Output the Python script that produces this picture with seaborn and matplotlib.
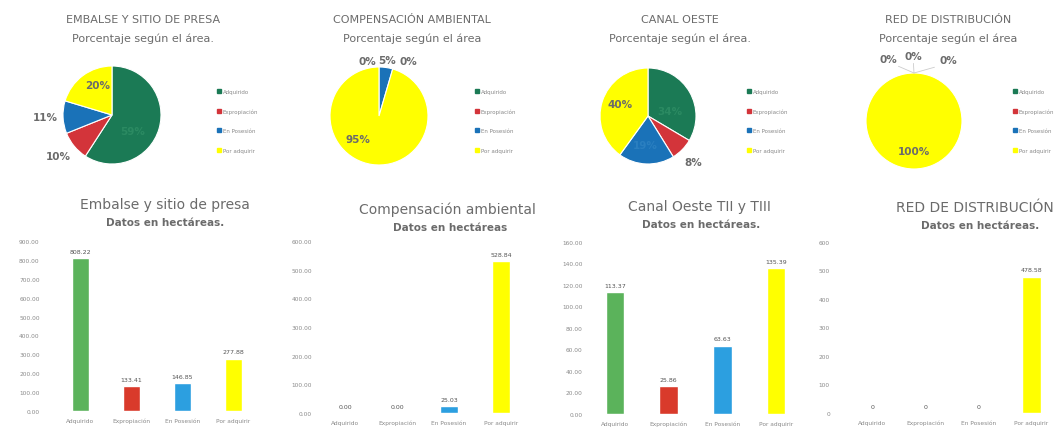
import numpy as np
import seaborn as sns
import matplotlib.pyplot as plt
from matplotlib.lines import Line2D

# Data
categorias = ["Adquirido", "Expropiación", "En Posesión", "Por adquirir"]
pie_titulos = ["EMBALSE Y SITIO DE PRESA", "COMPENSACIÓN AMBIENTAL", "CANAL OESTE", "RED DE DISTRIBUCIÓN"]
pie_subtitulos = ["Porcentaje según el área.", "Porcentaje según el área", "Porcentaje según el área.",
                  "Porcentaje según el área"]
bar_titulos = ["Embalse y sitio de presa", "Compensación ambiental", "Canal Oeste TII y TIII", "RED DE DISTRIBUCIÓN"]
bar_subtitulos = ["Datos en hectáreas.", "Datos en hectáreas", "Datos en hectáreas.", "Datos en hectáreas."]

embalse = [808.22, 133.41, 146.85, 277.88]
compensacion = [0.00, 0.00, 25.03, 528.84]
canal_oeste = [113.37, 25.86, 63.63, 135.39]
red_distribucion = [0, 0, 0, 478.58]
series = [embalse, compensacion, canal_oeste, red_distribucion]

y_max = [900, 600, 160, 600]
y_step = [100, 100, 20, 100]
y_fmt = ["{:.2f}", "{:.2f}", "{:.2f}", "{:.0f}"]
val_fmt = ["%.2f", "%.2f", "%.2f", "%g"]

pie_colores = ["#1b7a55", "#d3343a", "#1a72b8", "#ffff00"]
bar_colores = ["#5bb35b", "#d93a2b", "#2c9fe0", "#ffff00"]
gris = "#6b6b6b"

W, H = 1062, 431


def box(x0, y0, w, h):
    return [x0 / W, 1 - (y0 + h) / H, w / W, h / H]


sns.set_style("white")
plt.rcParams["font.family"] = ["DejaVu Sans"]

fig = plt.figure(figsize=(W / 100, H / 100), dpi=100)

# ---- top row: pies ----
pie_centros = [(112, 116), (379, 117), (648, 117), (914, 122)]
pie_r = [49, 49, 48, 48]
pie_tit_x = [143, 412, 680, 948]
leyenda_x = [212, 470, 742, 1008]
# label offsets (in radius units) per wedge
pos_etq = [
    [(0.43, -0.33), (-1.1, -0.84), (-1.37, -0.04), (-0.29, 0.61)],
    [(-0.24, 1.12), (0.6, 1.12), (0.16, 1.14), (-0.43, -0.47)],
    [(0.45, 0.1), (0.94, -0.96), (-0.05, -0.6), (-0.58, 0.25)],
    [(-0.54, 1.29), (0.71, 1.27), (-0.02, 1.35), (0.0, -0.62)],
]
color_etq = [
    ["#2b8a62", gris, gris, gris],
    [gris, gris, gris, gris],
    ["#2b8a62", gris, "#2a7fc0", gris],
    [gris, gris, gris, gris],
]

for i, vals in enumerate(series):
    cx, cy = pie_centros[i]
    r = pie_r[i]
    ax = fig.add_axes(box(cx - 1.6 * r, cy - 1.6 * r, 3.2 * r, 3.2 * r))
    ax.pie(vals, colors=pie_colores, startangle=90, counterclock=False, radius=1,
           wedgeprops=dict(edgecolor="white", linewidth=0.8))
    ax.set_xlim(-1.6, 1.6)
    ax.set_ylim(-1.6, 1.6)
    ax.set_aspect("equal")
    ax.axis("off")
    total = sum(vals)
    for j, v in enumerate(vals):
        dx, dy = pos_etq[i][j]
        ax.text(dx, dy, f"{round(100 * v / total):.0f}%", ha="center", va="center",
                fontsize=7.5, fontweight="bold", color=color_etq[i][j])
    if i == 3:
        for j in range(3):
            dx, dy = pos_etq[i][j]
            ax.add_line(Line2D([0, dx * 0.6], [1.0, dy - 0.15], color="#cccccc", lw=0.6))
    fig.text(pie_tit_x[i] / W, 1 - 20 / H, pie_titulos[i], ha="center", va="center",
             fontsize=8, color=gris)
    fig.text(pie_tit_x[i] / W, 1 - 39 / H, pie_subtitulos[i], ha="center", va="center",
             fontsize=8, color=gris)
    handles = [Line2D([0], [0], marker="s", linestyle="", markersize=2.5,
                      markerfacecolor=c, markeredgecolor=c) for c in pie_colores]
    fig.legend(handles, categorias, loc="upper left",
               bbox_to_anchor=(leyenda_x[i] / W, 1 - 85 / H), frameon=False,
               fontsize=4, labelcolor="#888888", labelspacing=2.6,
               handletextpad=0.2, handlelength=0.8)

# ---- bottom row: bars ----
bar_cajas = [(55, 242, 204, 170), (319, 242, 208, 172), (588, 243, 215, 172), (846, 243, 212, 171)]
y_pad = [11, 5, 4, 11.5]
bar_tit_x = [165, 447, 699, 975]
bar_tit_y = [205, 210, 207, 208]
bar_sub_x = [165, 450, 701, 980]

for i, vals in enumerate(series):
    ax = fig.add_axes(box(*bar_cajas[i]))
    sns.barplot(x=categorias, y=vals, hue=categorias, palette=bar_colores, legend=False,
                width=0.34, saturation=1, ax=ax)
    ax.set_ylim(0, y_max[i])
    ax.set_xlim(-0.5, 3.5)
    ticks = np.arange(0, y_max[i] + 1, y_step[i])
    ax.set_yticks(ticks)
    ax.set_yticklabels([y_fmt[i].format(t) for t in ticks])
    ax.tick_params(axis="both", labelsize=4.2, colors="#8a8a8a", length=0)
    ax.tick_params(axis="y", pad=y_pad[i])
    ax.tick_params(axis="x", pad=5)
    for cont in ax.containers:
        ax.bar_label(cont, fmt=val_fmt[i], fontsize=4.5, color="#555555", padding=3)
    ax.set_xlabel("")
    ax.set_ylabel("")
    sns.despine(ax=ax, left=True, bottom=True)
    fig.text(bar_tit_x[i] / W, 1 - bar_tit_y[i] / H, bar_titulos[i], ha="center", va="center",
             fontsize=10, color=gris)
    fig.text(bar_sub_x[i] / W, 1 - (bar_tit_y[i] + 18) / H, bar_subtitulos[i], ha="center",
             va="center", fontsize=7.5, fontweight="bold", color=gris)

fig.savefig("out.png", dpi=100)
